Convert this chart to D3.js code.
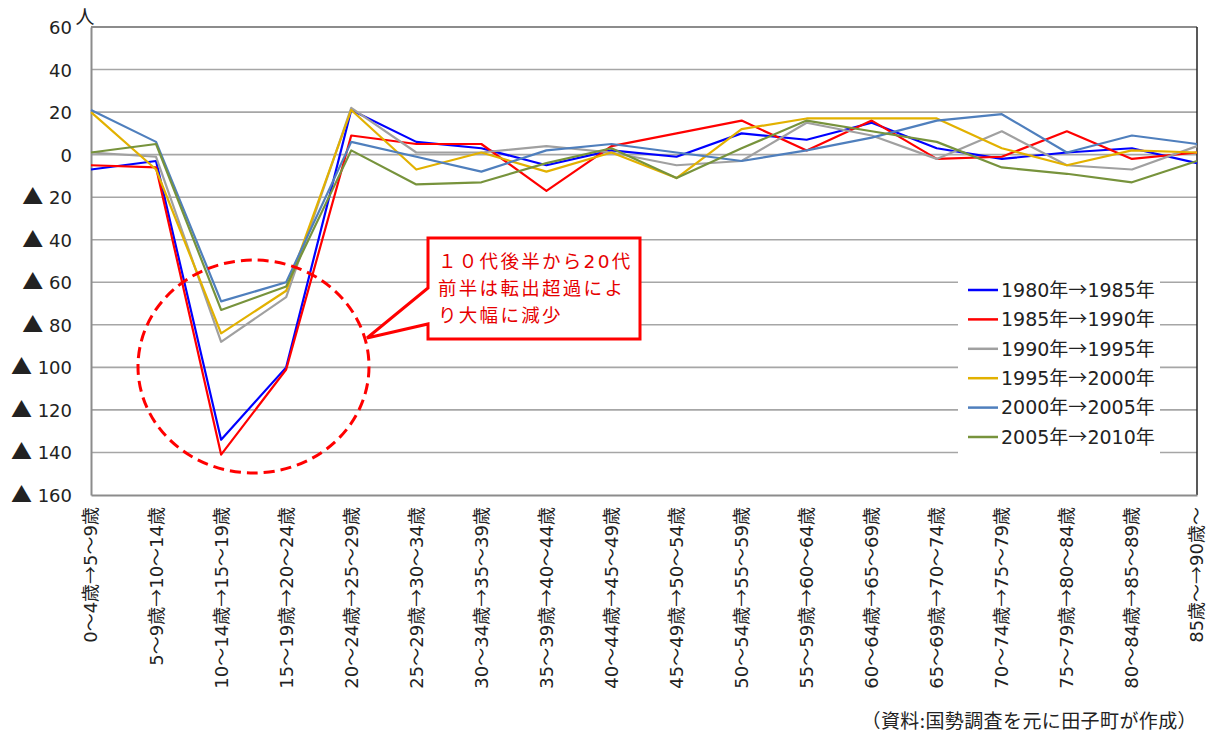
<!DOCTYPE html>
<html lang="ja">
<head>
<meta charset="utf-8">
<script src="https://cdn.jsdelivr.net/npm/d3@7"></script>
<style>
  html, body { margin: 0; padding: 0; background: #fff; }
  svg { display: block; }
</style>
</head>
<body>
<svg id="chart" width="1210" height="733"></svg>
<script>
// 年齢階級（5歳刻み）ごとの純移動数
const categories = [
  "0～4歳→5～9歳", "5～9歳→10～14歳", "10～14歳→15～19歳", "15～19歳→20～24歳",
  "20～24歳→25～29歳", "25～29歳→30～34歳", "30～34歳→35～39歳", "35～39歳→40～44歳",
  "40～44歳→45～49歳", "45～49歳→50～54歳", "50～54歳→55～59歳", "55～59歳→60～64歳",
  "60～64歳→65～69歳", "65～69歳→70～74歳", "70～74歳→75～79歳", "75～79歳→80～84歳",
  "80～84歳→85～89歳", "85歳～→90歳～"
];

const seriesNames = [
  "1980年→1985年", "1985年→1990年", "1990年→1995年",
  "1995年→2000年", "2000年→2005年", "2005年→2010年"
];

const values1980 = [-7, -3, -134, -100, 21, 6, 3, -5, 2, -1, 10, 7, 15, 3, -2, 1, 3, -4];
const values1985 = [-5, -6, -141, -101, 9, 5, 5, -17, 4, 10, 16, 2, 16, -2, -1, 11, -2, 1];
const values1990 = [1, -1, -88, -67, 22, 1, 1, 4, 1, -5, -3, 15, 9, -2, 11, -5, -7, 4];
const values1995 = [20, -7, -84, -64, 21, -7, 1, -8, 1, -11, 12, 17, 17, 17, 3, -5, 2, 1];
const values2000 = [21, 6, -69, -60, 6, -1, -8, 2, 5, 1, -3, 2, 8, 16, 19, 1, 9, 5];
const values2005 = [1, 5, -73, -62, 2, -14, -13, -4, 3, -11, 3, 16, 11, 6, -6, -9, -13, -3];

const seriesColors = ["#0000ff", "#ff0000", "#a0a0a0", "#e2b100", "#4f7fbd", "#77933c"];

const yTicks = [60, 40, 20, 0, -20, -40, -60, -80, -100, -120, -140, -160];

const calloutLines = ["１０代後半から20代", "前半は転出超過によ", "り大幅に減少"];

const series = [values1980, values1985, values1990, values1995, values2000, values2005]
  .map((v, i) => ({ name: seriesNames[i], color: seriesColors[i], values: v }));

const LATIN = "DejaVu Sans";
const CJK = "Noto Sans CJK JP";

// Split a string into runs: half-width characters in DejaVu Sans, the rest in the CJK face
function fontRuns(str) {
  const runs = [];
  for (const ch of str) {
    const latin = ch.charCodeAt(0) < 0x2000 && ch !== "▲";
    const last = runs[runs.length - 1];
    if (last && last.latin === latin) last.s += ch;
    else runs.push({ latin, s: ch });
  }
  return runs;
}
function mixedText(sel, str) {
  sel.selectAll("tspan.run").data(fontRuns(str)).join("tspan")
    .attr("class", "run")
    .attr("font-family", r => r.latin ? LATIN : CJK)
    .text(r => r.s);
}

const svg = d3.select("#chart");
const plotLeft = 91, plotRight = 1197, plotTop = 27, plotBottom = 495;

const x = d3.scalePoint().domain(categories).range([plotLeft, plotRight]);
const y = d3.scaleLinear().domain([-160, 60]).range([plotBottom, plotTop]);

// horizontal gridlines
svg.append("g")
  .selectAll("line")
  .data(yTicks.filter(t => t > -160 && t < 60))
  .join("line")
  .attr("x1", plotLeft).attr("x2", plotRight)
  .attr("y1", d => y(d)).attr("y2", d => y(d))
  .attr("stroke", "#a6a6a6").attr("stroke-width", 1.6);

// plot frame
svg.append("line").attr("x1", plotLeft).attr("x2", plotRight).attr("y1", plotTop).attr("y2", plotTop)
  .attr("stroke", "#8c8c8c").attr("stroke-width", 1.8);
svg.append("line").attr("x1", plotRight).attr("x2", plotRight).attr("y1", plotTop).attr("y2", plotBottom)
  .attr("stroke", "#222").attr("stroke-width", 1.5);

// y axis
const yAxis = d3.axisLeft(y).tickValues(yTicks).tickSize(0).tickPadding(19)
  .tickFormat(d => d < 0 ? "▲ " + (-d) : String(d));
const gy = svg.append("g").attr("transform", `translate(${plotLeft},0)`).call(yAxis);
gy.select(".domain").attr("stroke", "#8c8c8c").attr("stroke-width", 2);
gy.selectAll("text")
  .attr("font-size", 18).attr("fill", "#222").attr("dy", "0.36em")
  .each(function (d) {
    const t = d3.select(this);
    const label = d < 0 ? "▲ " + (-d) : String(d);
    t.text(null);
    mixedText(t, label);
    t.selectAll("tspan").filter(r => r.s.includes("▲")).attr("font-size", 21);
  });

// unit
svg.append("text").attr("x", 85).attr("y", 15).attr("text-anchor", "middle")
  .attr("dominant-baseline", "central")
  .attr("font-family", CJK).attr("font-size", 19).attr("fill", "#222").text("人");

// x axis
const xAxis = d3.axisBottom(x).tickSize(0).tickFormat("");
const gx = svg.append("g").attr("transform", `translate(0,${plotBottom})`).call(xAxis);
gx.select(".domain").attr("stroke", "#8c8c8c").attr("stroke-width", 2);

svg.append("g").selectAll("text")
  .data(categories)
  .join("text")
  .attr("transform", d => `translate(${x(d)},${plotBottom + 12}) rotate(-90)`)
  .attr("text-anchor", "end")
  .attr("dy", "0.36em")
  .attr("font-size", 18).attr("fill", "#222")
  .each(function (d) { mixedText(d3.select(this), d); });

// series lines
const line = d3.line()
  .x((d, i) => x(categories[i]))
  .y(d => y(d));

svg.append("g")
  .selectAll("path")
  .data(series)
  .join("path")
  .attr("d", d => line(d.values))
  .attr("fill", "none")
  .attr("stroke", d => d.color)
  .attr("stroke-width", 2.2)
  .attr("stroke-linejoin", "round");

// legend
const legend = svg.append("g");
legend.append("rect").attr("x", 958).attr("y", 272).attr("width", 202).attr("height", 184)
  .attr("fill", "#fff");
const item = legend.selectAll("g.item").data(series).join("g")
  .attr("class", "item")
  .attr("transform", (d, i) => `translate(0,${290 + i * 29.4})`);
item.append("line").attr("x1", 968).attr("x2", 998).attr("y1", 0).attr("y2", 0)
  .attr("stroke", d => d.color).attr("stroke-width", 2.5);
item.append("text").attr("x", 1001).attr("y", 0).attr("dy", "0.36em")
  .attr("font-size", 19).attr("fill", "#222")
  .each(function (d) { mixedText(d3.select(this), d.name); });

// highlight of the 10–24 age drop
svg.append("ellipse")
  .attr("cx", 253.5).attr("cy", 366.5).attr("rx", 115.5).attr("ry", 106.5)
  .attr("fill", "none").attr("stroke", "#ff0000").attr("stroke-width", 3)
  .attr("stroke-dasharray", "11 6");

// callout box with a pointer toward the ellipse
svg.append("path")
  .attr("d", "M428,238 H640 V339 H428 V324 L367,338 L428,288 Z")
  .attr("fill", "#fff").attr("stroke", "#ff0000").attr("stroke-width", 3)
  .attr("stroke-linejoin", "miter");
const callout = svg.append("text")
  .attr("font-size", 18.5).attr("letter-spacing", 2.3).attr("fill", "#e60000");
callout.selectAll("tspan.line").data(calloutLines).join("tspan")
  .attr("class", "line")
  .attr("x", 438).attr("y", (d, i) => 268 + i * 27)
  .each(function (d) { mixedText(d3.select(this), d); });

// source note
svg.append("text").attr("x", 1197).attr("y", 721).attr("text-anchor", "end")
  .attr("dy", "0.36em").attr("font-family", CJK).attr("font-size", 19).attr("letter-spacing", 0.4)
  .attr("fill", "#222")
  .text("（資料:国勢調査を元に田子町が作成）");
</script>
</body>
</html>
